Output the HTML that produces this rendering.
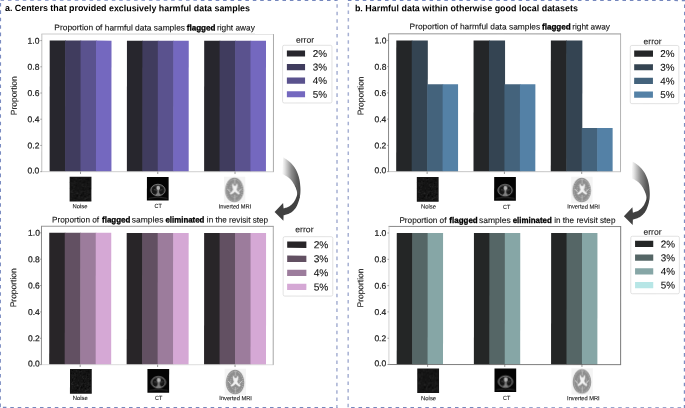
<!DOCTYPE html>
<html><head><meta charset="utf-8"><title>figure</title>
<style>html,body{margin:0;padding:0;background:#fff;}body{width:685px;height:408px;overflow:hidden;}svg{display:block;will-change:transform;}text{font-family:"Liberation Sans", sans-serif;}.r{stroke:#1a1a1a;stroke-width:0.22px;}.q{stroke:#111;stroke-width:0.1px;}.b{stroke:#000;stroke-width:0.3px;}</style>
</head><body>
<svg width="685" height="408" viewBox="0 0 685 408">
<defs><filter id="bl" x="-20%" y="-20%" width="140%" height="140%"><feGaussianBlur stdDeviation="0.35"/></filter><g id="noise"><rect x="0" y="0" width="21.8" height="24.6" fill="#141414"/><g filter="url(#bl)"><path d="M9.6 13.3h0.8v0.8h-0.8zM18.9 11.1h0.8v0.8h-0.8zM10.7 13.9h0.8v0.8h-0.8zM4.3 12.2h0.8v0.8h-0.8zM13.1 18.5h0.8v0.8h-0.8zM2.5 7.5h0.8v0.8h-0.8zM2.4 18.9h0.8v0.8h-0.8zM14.3 1.5h0.8v0.8h-0.8zM20.0 22.4h0.8v0.8h-0.8zM13.5 14.5h0.8v0.8h-0.8zM3.7 0.9h0.8v0.8h-0.8zM11.1 1.9h0.8v0.8h-0.8zM4.4 6.1h0.8v0.8h-0.8zM1.2 11.1h0.8v0.8h-0.8zM9.3 19.6h0.8v0.8h-0.8zM10.9 15.1h0.8v0.8h-0.8zM10.5 15.6h0.8v0.8h-0.8zM9.7 6.9h0.8v0.8h-0.8zM20.4 23.1h0.8v0.8h-0.8zM17.2 16.6h0.8v0.8h-0.8zM6.8 5.8h0.8v0.8h-0.8zM6.3 2.2h0.8v0.8h-0.8zM15.8 9.6h0.8v0.8h-0.8zM17.4 9.3h0.8v0.8h-0.8zM19.6 19.7h0.8v0.8h-0.8zM0.6 5.3h0.8v0.8h-0.8zM18.6 11.2h0.8v0.8h-0.8zM20.0 9.6h0.8v0.8h-0.8zM2.0 14.8h0.8v0.8h-0.8zM16.0 6.7h0.8v0.8h-0.8zM2.3 8.1h0.8v0.8h-0.8zM19.7 17.7h0.8v0.8h-0.8zM2.9 6.2h0.8v0.8h-0.8zM2.6 2.0h0.8v0.8h-0.8zM16.4 4.6h0.8v0.8h-0.8zM11.7 10.7h0.8v0.8h-0.8zM4.4 17.1h0.8v0.8h-0.8zM3.2 15.1h0.8v0.8h-0.8zM2.9 10.1h0.8v0.8h-0.8zM4.8 6.7h0.8v0.8h-0.8zM19.8 18.8h0.8v0.8h-0.8zM6.6 20.6h0.8v0.8h-0.8zM4.8 9.5h0.8v0.8h-0.8zM17.5 15.1h0.8v0.8h-0.8zM2.6 23.0h0.8v0.8h-0.8zM4.8 6.4h0.8v0.8h-0.8zM15.9 8.0h0.8v0.8h-0.8zM6.5 2.3h0.8v0.8h-0.8zM2.4 13.8h0.8v0.8h-0.8zM5.4 14.2h0.8v0.8h-0.8zM8.0 10.8h0.8v0.8h-0.8zM19.6 11.5h0.8v0.8h-0.8zM12.0 20.2h0.8v0.8h-0.8zM4.2 4.1h0.8v0.8h-0.8zM18.6 19.1h0.8v0.8h-0.8zM5.5 4.9h0.8v0.8h-0.8zM15.2 21.9h0.8v0.8h-0.8zM4.5 22.1h0.8v0.8h-0.8zM18.1 14.2h0.8v0.8h-0.8zM8.9 2.9h0.8v0.8h-0.8zM1.4 22.4h0.8v0.8h-0.8zM5.3 16.5h0.8v0.8h-0.8zM5.7 19.2h0.8v0.8h-0.8zM12.4 7.2h0.8v0.8h-0.8zM4.1 16.9h0.8v0.8h-0.8zM2.0 5.8h0.8v0.8h-0.8zM11.7 19.9h0.8v0.8h-0.8zM12.8 6.9h0.8v0.8h-0.8zM18.8 5.2h0.8v0.8h-0.8zM0.9 6.7h0.8v0.8h-0.8zM9.4 2.0h0.8v0.8h-0.8zM4.1 8.9h0.8v0.8h-0.8zM11.9 3.6h0.8v0.8h-0.8zM7.8 20.7h0.8v0.8h-0.8zM20.0 15.4h0.8v0.8h-0.8zM14.3 13.8h0.8v0.8h-0.8zM3.4 1.4h0.8v0.8h-0.8zM1.0 21.2h0.8v0.8h-0.8zM14.5 22.4h0.8v0.8h-0.8zM1.0 15.0h0.8v0.8h-0.8z" fill="#232323"/><path d="M10.1 17.1h0.8v0.8h-0.8zM6.9 23.2h0.8v0.8h-0.8zM2.1 12.9h0.8v0.8h-0.8zM15.2 20.9h0.8v0.8h-0.8zM15.2 16.5h0.8v0.8h-0.8zM16.3 21.3h0.8v0.8h-0.8zM7.6 16.1h0.8v0.8h-0.8zM18.4 20.3h0.8v0.8h-0.8zM8.9 18.5h0.8v0.8h-0.8zM17.7 13.5h0.8v0.8h-0.8zM13.0 9.2h0.8v0.8h-0.8zM12.1 14.4h0.8v0.8h-0.8zM2.2 15.1h0.8v0.8h-0.8zM20.3 20.5h0.8v0.8h-0.8zM15.0 9.4h0.8v0.8h-0.8zM15.2 13.7h0.8v0.8h-0.8zM9.3 19.5h0.8v0.8h-0.8zM2.3 17.6h0.8v0.8h-0.8zM1.2 14.2h0.8v0.8h-0.8zM10.1 5.8h0.8v0.8h-0.8zM14.4 11.8h0.8v0.8h-0.8zM12.8 21.4h0.8v0.8h-0.8zM5.7 0.9h0.8v0.8h-0.8zM6.6 15.9h0.8v0.8h-0.8zM4.6 4.4h0.8v0.8h-0.8zM18.5 15.5h0.8v0.8h-0.8zM9.4 20.8h0.8v0.8h-0.8zM7.1 15.6h0.8v0.8h-0.8zM4.5 10.3h0.8v0.8h-0.8zM16.6 21.3h0.8v0.8h-0.8zM18.0 9.3h0.8v0.8h-0.8zM12.1 7.8h0.8v0.8h-0.8zM3.3 11.8h0.8v0.8h-0.8zM17.2 19.8h0.8v0.8h-0.8zM14.7 22.1h0.8v0.8h-0.8z" fill="#2e2e2e"/><path d="M6.1 4.4h0.8v0.8h-0.8zM9.5 6.8h0.8v0.8h-0.8zM4.8 10.0h0.8v0.8h-0.8zM13.0 11.8h0.8v0.8h-0.8zM6.8 19.6h0.8v0.8h-0.8zM20.0 10.8h0.8v0.8h-0.8zM2.1 1.3h0.8v0.8h-0.8zM17.9 1.5h0.8v0.8h-0.8zM14.6 13.5h0.8v0.8h-0.8zM6.7 18.5h0.8v0.8h-0.8zM1.0 3.7h0.8v0.8h-0.8zM9.6 1.2h0.8v0.8h-0.8zM17.0 6.0h0.8v0.8h-0.8zM3.4 1.7h0.8v0.8h-0.8zM13.1 10.7h0.8v0.8h-0.8zM13.1 15.4h0.8v0.8h-0.8zM16.6 22.3h0.8v0.8h-0.8zM14.2 5.1h0.8v0.8h-0.8zM10.0 4.6h0.8v0.8h-0.8zM0.8 11.3h0.8v0.8h-0.8zM14.7 4.6h0.8v0.8h-0.8zM6.0 8.4h0.8v0.8h-0.8zM14.4 12.4h0.8v0.8h-0.8zM12.8 17.7h0.8v0.8h-0.8zM8.4 18.5h0.8v0.8h-0.8zM18.5 2.6h0.8v0.8h-0.8zM19.1 16.9h0.8v0.8h-0.8zM3.2 10.8h0.8v0.8h-0.8zM13.0 21.2h0.8v0.8h-0.8zM8.1 13.5h0.8v0.8h-0.8zM18.0 18.6h0.8v0.8h-0.8zM19.3 11.1h0.8v0.8h-0.8zM13.5 5.2h0.8v0.8h-0.8zM14.9 19.1h0.8v0.8h-0.8zM13.3 16.8h0.8v0.8h-0.8zM4.8 20.9h0.8v0.8h-0.8zM20.0 22.7h0.8v0.8h-0.8zM11.2 18.5h0.8v0.8h-0.8zM6.9 21.2h0.8v0.8h-0.8zM17.5 8.5h0.8v0.8h-0.8zM2.2 10.6h0.8v0.8h-0.8zM11.5 18.0h0.8v0.8h-0.8zM10.3 1.2h0.8v0.8h-0.8zM16.6 2.0h0.8v0.8h-0.8zM16.4 4.5h0.8v0.8h-0.8zM7.2 18.4h0.8v0.8h-0.8zM3.4 4.0h0.8v0.8h-0.8zM10.8 17.0h0.8v0.8h-0.8zM17.2 16.2h0.8v0.8h-0.8zM19.3 11.7h0.8v0.8h-0.8z" fill="#080808"/></g></g><g id="ct"><rect x="0" y="0" width="21.7" height="23.6" fill="#040404"/><g transform="translate(11.0,13.2)" filter="url(#bl)"><ellipse cx="0" cy="0" rx="7.15" ry="5.75" fill="#262626" stroke="#858585" stroke-width="0.95"/><ellipse cx="-3.4" cy="0.2" rx="2.5" ry="3.7" fill="#191919"/><ellipse cx="3.7" cy="0.2" rx="2.5" ry="3.7" fill="#191919"/><path d="M-0.4 -0.4 L1.0 -0.4 L1.2 3.0 L3.2 5.2 L-2.8 5.2 L-0.7 3.0 Z" fill="#808080"/><ellipse cx="0.3" cy="-2.1" rx="1.8" ry="2.1" fill="#b4b4b4"/><path d="M-4.0 -0.6 L-0.8 0.5 M1.4 0.5 L4.4 -0.6" stroke="#555" stroke-width="0.6" fill="none"/><path d="M-9.4 8.3 Q0 5.9 9.4 8.3" fill="none" stroke="#383838" stroke-width="0.8"/></g></g><g id="mri"><rect x="0" y="-0.3" width="21.4" height="26.4" fill="#f4f4f4"/><g transform="translate(10.5,12.9)" filter="url(#bl)"><path d="M0 -12.3 C5.0 -12.3 9.2 -6.5 9.2 0.6 C9.2 7.2 5.6 12.3 0 12.3 C-5.6 12.3 -9.2 7.2 -9.2 0.6 C-9.2 -6.5 -5.0 -12.3 0 -12.3 Z" fill="#8f8f8f"/><ellipse cx="0" cy="0.3" rx="8.0" ry="10.9" fill="none" stroke="#bebebe" stroke-width="1.0" stroke-dasharray="0.9 1.0"/><ellipse cx="0" cy="0.3" rx="6.2" ry="8.8" fill="none" stroke="#8b8b8b" stroke-width="0.9" stroke-dasharray="1.2 0.9"/><ellipse cx="0" cy="0.6" rx="4.6" ry="6.9" fill="none" stroke="#c4c4c4" stroke-width="0.8" stroke-dasharray="0.8 1.1"/><path d="M-6.6 -0.8 L-4.6 1.6 M6.6 -0.8 L4.6 1.6" stroke="#cfcfcf" stroke-width="1.0" fill="none" stroke-linecap="round"/><path d="M0.3 -11.4 V-6.4 M0.3 5.0 V11.2" stroke="#c8c8c8" stroke-width="0.7" fill="none"/><path d="M-2.0 -6.3 Q-1.0 -5.0 -0.1 -3.7 L0.5 -4.0 L1.1 -3.7 Q2.0 -5.0 3.0 -6.3 Q3.3 -3.0 2.1 -0.3 Q2.9 1.8 5.3 3.3 L4.5 4.4 Q2.0 3.5 0.5 1.7 Q-1.0 3.5 -3.5 4.4 L-4.3 3.3 Q-1.9 1.8 -1.1 -0.3 Q-2.3 -3.0 -2.0 -6.3 Z" fill="#f2f2f2" stroke="#e2e2e2" stroke-width="0.35"/></g></g><linearGradient id="ag" gradientUnits="userSpaceOnUse" x1="282" y1="0" x2="300.5" y2="0"><stop offset="0" stop-color="#ffffff"/><stop offset="0.15" stop-color="#e2e2e2"/><stop offset="0.5" stop-color="#8e8e8e"/><stop offset="0.8" stop-color="#5e5e5e"/><stop offset="1" stop-color="#4a4a4a"/></linearGradient></defs>
<rect width="685" height="408" fill="#fff"/>
<g transform="rotate(0.03 342.5 204)" text-rendering="geometricPrecision">
<line x1="0" y1="0.2" x2="337.4" y2="0.2" stroke="#7587bd" stroke-width="1.5" stroke-dasharray="3.55 3.87" stroke-dashoffset="7.02"/>
<line x1="0.35" y1="0" x2="0.35" y2="408" stroke="#7b8cc1" stroke-width="1.3" stroke-dasharray="3.55 3.87" stroke-dashoffset="4.32"/>
<line x1="337.0" y1="0" x2="337.0" y2="408" stroke="#a6b0d3" stroke-width="1.5" stroke-dasharray="3.55 3.87" stroke-dashoffset="3.12"/>
<line x1="0" y1="407.75" x2="337.4" y2="407.75" stroke="#7587bd" stroke-width="1.4" stroke-dasharray="3.55 3.87" stroke-dashoffset="4.44"/>
<line x1="347.8" y1="0.2" x2="685" y2="0.2" stroke="#7587bd" stroke-width="1.5" stroke-dasharray="3.55 3.87" stroke-dashoffset="0.00"/>
<line x1="348.25" y1="0" x2="348.25" y2="408" stroke="#a6b0d3" stroke-width="1.5" stroke-dasharray="3.55 3.87" stroke-dashoffset="4.32"/>
<line x1="684.6" y1="0" x2="684.6" y2="408" stroke="#7b8cc1" stroke-width="1.4" stroke-dasharray="3.55 3.87" stroke-dashoffset="3.22"/>
<line x1="347.8" y1="407.75" x2="685" y2="407.75" stroke="#7587bd" stroke-width="1.4" stroke-dasharray="3.55 3.87" stroke-dashoffset="4.02"/>
<text x="4.9" y="11.25" font-size="9.1" font-weight="bold" fill="#000" textLength="245" lengthAdjust="spacingAndGlyphs">a. Centers that provided exclusively harmful data samples</text>
<text x="354.8" y="11.25" font-size="9.1" font-weight="bold" fill="#000" textLength="223" lengthAdjust="spacingAndGlyphs">b. Harmful data within otherwise good local datasets</text>
<text x="54.25" y="30.50" font-size="8.3" class="q" fill="#111" textLength="130.70" lengthAdjust="spacingAndGlyphs">Proportion of harmful data samples</text>
<text x="186.65" y="30.50" font-size="8.3" font-weight="bold" class="b" fill="#000" textLength="28.80" lengthAdjust="spacingAndGlyphs">flagged</text>
<text x="216.85" y="30.50" font-size="8.3" class="q" fill="#111" textLength="37.90" lengthAdjust="spacingAndGlyphs">right away</text>
<rect x="49.60" y="40.75" width="16.05" height="131.05" fill="#27262d"/>
<rect x="65.05" y="40.75" width="16.05" height="131.05" fill="#403c5e"/>
<rect x="80.50" y="40.75" width="16.05" height="131.05" fill="#5a528e"/>
<rect x="95.95" y="40.75" width="15.45" height="131.05" fill="#7468bf"/>
<rect x="126.85" y="40.75" width="16.05" height="131.05" fill="#27262d"/>
<rect x="142.30" y="40.75" width="16.05" height="131.05" fill="#403c5e"/>
<rect x="157.75" y="40.75" width="16.05" height="131.05" fill="#5a528e"/>
<rect x="173.20" y="40.75" width="15.45" height="131.05" fill="#7468bf"/>
<rect x="204.10" y="40.75" width="16.05" height="131.05" fill="#27262d"/>
<rect x="219.55" y="40.75" width="16.05" height="131.05" fill="#403c5e"/>
<rect x="235.00" y="40.75" width="16.05" height="131.05" fill="#5a528e"/>
<rect x="250.45" y="40.75" width="15.45" height="131.05" fill="#7468bf"/>
<line x1="41.30" y1="171.80" x2="273.85" y2="171.80" stroke="#c8c8c8" stroke-width="0.9"/>
<line x1="41.30" y1="34.20" x2="273.85" y2="34.20" stroke="#dddddd" stroke-width="1.4"/>
<line x1="273.40" y1="34.20" x2="273.40" y2="171.80" stroke="#a0a0a0" stroke-width="0.9"/>
<line x1="41.75" y1="34.20" x2="41.75" y2="171.80" stroke="#c6c6c6" stroke-width="1.1"/>
<line x1="40.25" y1="171.80" x2="41.75" y2="171.80" stroke="#666" stroke-width="0.6"/>
<text x="39.35" y="173.55" class="r" font-size="8.5" text-anchor="end" fill="#1a1a1a">0.0</text>
<line x1="40.25" y1="145.59" x2="41.75" y2="145.59" stroke="#666" stroke-width="0.6"/>
<text x="39.35" y="148.64" class="r" font-size="8.5" text-anchor="end" fill="#1a1a1a">0.2</text>
<line x1="40.25" y1="119.38" x2="41.75" y2="119.38" stroke="#666" stroke-width="0.6"/>
<text x="39.35" y="122.43" class="r" font-size="8.5" text-anchor="end" fill="#1a1a1a">0.4</text>
<line x1="40.25" y1="93.17" x2="41.75" y2="93.17" stroke="#666" stroke-width="0.6"/>
<text x="39.35" y="96.22" class="r" font-size="8.5" text-anchor="end" fill="#1a1a1a">0.6</text>
<line x1="40.25" y1="66.96" x2="41.75" y2="66.96" stroke="#666" stroke-width="0.6"/>
<text x="39.35" y="70.01" class="r" font-size="8.5" text-anchor="end" fill="#1a1a1a">0.8</text>
<line x1="40.25" y1="40.75" x2="41.75" y2="40.75" stroke="#666" stroke-width="0.6"/>
<text x="39.35" y="43.80" class="r" font-size="8.5" text-anchor="end" fill="#1a1a1a">1.0</text>
<line x1="80.50" y1="171.80" x2="80.50" y2="174.10" stroke="#555" stroke-width="0.6"/>
<line x1="157.75" y1="171.80" x2="157.75" y2="174.10" stroke="#555" stroke-width="0.6"/>
<line x1="235.00" y1="171.80" x2="235.00" y2="174.10" stroke="#555" stroke-width="0.6"/>
<text transform="translate(16.60,95.90) rotate(-90)" class="q" font-size="8.5" text-anchor="middle" fill="#1c1c1c" textLength="38.9" lengthAdjust="spacingAndGlyphs">Proportion</text>
<use href="#noise" x="69.60" y="177.00"/>
<use href="#ct" x="146.90" y="177.00"/>
<use href="#mri" x="223.90" y="177.00"/>
<text x="80.05" y="208.50" class="q" font-size="6" text-anchor="middle" fill="#111" textLength="15.0" lengthAdjust="spacingAndGlyphs">Noise</text>
<text x="158.15" y="208.50" class="q" font-size="6" text-anchor="middle" fill="#111" textLength="7.2" lengthAdjust="spacingAndGlyphs">CT</text>
<text x="235.00" y="208.50" class="q" font-size="6" text-anchor="middle" fill="#111" textLength="32.6" lengthAdjust="spacingAndGlyphs">Inverted MRI</text>
<text x="295.80" y="42.80" class="q" font-size="8.3" fill="#1c1c1c" textLength="18.20" lengthAdjust="spacingAndGlyphs">error</text>
<rect x="282.50" y="45.30" width="49.40" height="57.70" rx="1.6" fill="#fff" stroke="#d6d6d6" stroke-width="0.7"/>
<rect x="286.80" y="50.50" width="18.20" height="6.10" fill="#27262d"/>
<text x="312.70" y="56.95" class="q" font-size="9.9" fill="#111">2%</text>
<rect x="286.80" y="64.07" width="18.20" height="6.10" fill="#403c5e"/>
<text x="312.70" y="70.52" class="q" font-size="9.9" fill="#111">3%</text>
<rect x="286.80" y="77.64" width="18.20" height="6.10" fill="#5a528e"/>
<text x="312.70" y="84.09" class="q" font-size="9.9" fill="#111">4%</text>
<rect x="286.80" y="91.21" width="18.20" height="6.10" fill="#7468bf"/>
<text x="312.70" y="97.66" class="q" font-size="9.9" fill="#111">5%</text>
<text x="52.10" y="222.70" font-size="8.3" class="q" fill="#111" textLength="47.05" lengthAdjust="spacingAndGlyphs">Proportion of</text>
<text x="102.05" y="222.70" font-size="8.3" font-weight="bold" class="b" fill="#000" textLength="28.40" lengthAdjust="spacingAndGlyphs">flagged</text>
<text x="131.75" y="222.70" font-size="8.3" class="q" fill="#111" textLength="31.70" lengthAdjust="spacingAndGlyphs">samples</text>
<text x="165.45" y="222.70" font-size="8.3" font-weight="bold" class="b" fill="#000" textLength="39.00" lengthAdjust="spacingAndGlyphs">eliminated</text>
<text x="206.85" y="222.70" font-size="8.3" class="q" fill="#111" textLength="61.30" lengthAdjust="spacingAndGlyphs">in the revisit step</text>
<rect x="49.30" y="232.99" width="16.09" height="131.81" fill="#282528"/>
<rect x="64.79" y="232.99" width="16.09" height="131.81" fill="#625062"/>
<rect x="80.27" y="232.99" width="16.09" height="131.81" fill="#9c7c9c"/>
<rect x="95.76" y="232.99" width="15.49" height="131.81" fill="#d5a8d5"/>
<rect x="126.73" y="232.99" width="16.09" height="131.81" fill="#282528"/>
<rect x="142.21" y="232.99" width="16.09" height="131.81" fill="#625062"/>
<rect x="157.70" y="232.99" width="16.09" height="131.81" fill="#9c7c9c"/>
<rect x="173.19" y="232.99" width="15.49" height="131.81" fill="#d5a8d5"/>
<rect x="204.16" y="232.99" width="16.09" height="131.81" fill="#282528"/>
<rect x="219.64" y="232.99" width="16.09" height="131.81" fill="#625062"/>
<rect x="235.13" y="232.99" width="16.09" height="131.81" fill="#9c7c9c"/>
<rect x="250.61" y="232.99" width="15.49" height="131.81" fill="#d5a8d5"/>
<line x1="41.05" y1="364.80" x2="273.75" y2="364.80" stroke="#d8d8d8" stroke-width="0.9"/>
<line x1="41.05" y1="226.40" x2="273.75" y2="226.40" stroke="#8c8c8c" stroke-width="0.9"/>
<line x1="273.30" y1="226.40" x2="273.30" y2="364.80" stroke="#9c9c9c" stroke-width="0.9"/>
<line x1="41.50" y1="226.40" x2="41.50" y2="364.80" stroke="#7c7c7c" stroke-width="0.9"/>
<line x1="40.00" y1="364.80" x2="41.50" y2="364.80" stroke="#666" stroke-width="0.6"/>
<text x="39.90" y="366.55" class="r" font-size="8.5" text-anchor="end" fill="#1a1a1a">0.0</text>
<line x1="40.00" y1="338.44" x2="41.50" y2="338.44" stroke="#666" stroke-width="0.6"/>
<text x="39.90" y="341.49" class="r" font-size="8.5" text-anchor="end" fill="#1a1a1a">0.2</text>
<line x1="40.00" y1="312.08" x2="41.50" y2="312.08" stroke="#666" stroke-width="0.6"/>
<text x="39.90" y="315.13" class="r" font-size="8.5" text-anchor="end" fill="#1a1a1a">0.4</text>
<line x1="40.00" y1="285.71" x2="41.50" y2="285.71" stroke="#666" stroke-width="0.6"/>
<text x="39.90" y="288.76" class="r" font-size="8.5" text-anchor="end" fill="#1a1a1a">0.6</text>
<line x1="40.00" y1="259.35" x2="41.50" y2="259.35" stroke="#666" stroke-width="0.6"/>
<text x="39.90" y="262.40" class="r" font-size="8.5" text-anchor="end" fill="#1a1a1a">0.8</text>
<line x1="40.00" y1="232.99" x2="41.50" y2="232.99" stroke="#666" stroke-width="0.6"/>
<text x="39.90" y="236.04" class="r" font-size="8.5" text-anchor="end" fill="#1a1a1a">1.0</text>
<line x1="80.27" y1="364.80" x2="80.27" y2="367.10" stroke="#555" stroke-width="0.6"/>
<line x1="157.70" y1="364.80" x2="157.70" y2="367.10" stroke="#555" stroke-width="0.6"/>
<line x1="235.13" y1="364.80" x2="235.13" y2="367.10" stroke="#555" stroke-width="0.6"/>
<text transform="translate(16.40,288.00) rotate(-90)" class="q" font-size="8.5" text-anchor="middle" fill="#1c1c1c" textLength="38.9" lengthAdjust="spacingAndGlyphs">Proportion</text>
<use href="#noise" x="70.07" y="369.20"/>
<use href="#ct" x="147.55" y="369.20"/>
<use href="#mri" x="224.73" y="369.20"/>
<text x="80.42" y="400.20" class="q" font-size="6" text-anchor="middle" fill="#111" textLength="15.0" lengthAdjust="spacingAndGlyphs">Noise</text>
<text x="158.70" y="400.20" class="q" font-size="6" text-anchor="middle" fill="#111" textLength="7.2" lengthAdjust="spacingAndGlyphs">CT</text>
<text x="235.73" y="400.20" class="q" font-size="6" text-anchor="middle" fill="#111" textLength="32.6" lengthAdjust="spacingAndGlyphs">Inverted MRI</text>
<text x="295.20" y="232.20" class="q" font-size="8.3" fill="#1c1c1c" textLength="18.40" lengthAdjust="spacingAndGlyphs">error</text>
<rect x="283.20" y="236.70" width="49.60" height="59.40" rx="1.6" fill="#fff" stroke="#d6d6d6" stroke-width="0.7"/>
<rect x="287.20" y="241.60" width="19.20" height="6.30" fill="#282528"/>
<text x="313.70" y="248.25" class="q" font-size="10.2" fill="#111">2%</text>
<rect x="287.20" y="255.65" width="19.20" height="6.30" fill="#625062"/>
<text x="313.70" y="262.30" class="q" font-size="10.2" fill="#111">3%</text>
<rect x="287.20" y="269.70" width="19.20" height="6.30" fill="#9c7c9c"/>
<text x="313.70" y="276.35" class="q" font-size="10.2" fill="#111">4%</text>
<rect x="287.20" y="283.75" width="19.20" height="6.30" fill="#d5a8d5"/>
<text x="313.70" y="290.40" class="q" font-size="10.2" fill="#111">5%</text>
<g transform="translate(0.00,0.00)">
<polygon points="283.20,157.40 283.53,157.61 283.98,157.88 284.51,158.21 285.09,158.57 285.71,158.97 286.34,159.38 286.94,159.79 287.50,160.20 288.02,160.60 288.55,161.01 289.07,161.43 289.59,161.87 290.10,162.32 290.61,162.79 291.11,163.28 291.60,163.80 292.09,164.34 292.58,164.91 293.06,165.50 293.54,166.11 294.00,166.74 294.45,167.38 294.89,168.04 295.30,168.70 295.69,169.38 296.07,170.09 296.44,170.82 296.79,171.56 297.12,172.31 297.43,173.05 297.73,173.78 298.00,174.50 298.25,175.20 298.48,175.90 298.69,176.59 298.88,177.28 299.05,177.97 299.21,178.65 299.36,179.32 299.50,180.00 299.63,180.68 299.74,181.35 299.84,182.03 299.93,182.70 300.01,183.37 300.08,184.02 300.14,184.67 300.20,185.30 300.26,185.92 300.31,186.51 300.35,187.10 300.38,187.68 300.41,188.26 300.43,188.83 300.45,189.41 300.45,190.00 300.45,190.60 300.44,191.22 300.42,191.84 300.39,192.46 300.36,193.08 300.31,193.68 300.26,194.25 300.20,194.80 300.12,195.34 300.02,195.89 299.91,196.43 299.78,196.95 299.67,197.43 299.56,197.86 299.47,198.22 299.40,198.50 297.60,195.00 297.56,194.77 297.50,194.47 297.44,194.11 297.36,193.71 297.28,193.29 297.19,192.85 297.10,192.41 297.00,192.00 296.90,191.59 296.79,191.18 296.68,190.75 296.56,190.32 296.43,189.89 296.29,189.45 296.15,189.02 296.00,188.60 295.84,188.19 295.68,187.78 295.50,187.37 295.32,186.97 295.14,186.56 294.94,186.15 294.72,185.73 294.50,185.30 294.26,184.85 294.01,184.39 293.75,183.92 293.47,183.44 293.19,182.96 292.90,182.49 292.60,182.04 292.30,181.60 291.99,181.18 291.68,180.77 291.36,180.37 291.04,179.97 290.70,179.59 290.35,179.22 289.98,178.85 289.60,178.50 289.20,178.16 288.77,177.82 288.33,177.50 287.88,177.18 287.42,176.87 286.95,176.58 286.48,176.28 286.00,176.00 285.49,175.71 284.93,175.42 284.35,175.13 283.78,174.84 283.22,174.58 282.73,174.35 282.31,174.15 282.00,174.00" fill="url(#ag)"/>
<polygon points="299.75,197.20 299.69,197.48 299.61,197.84 299.52,198.27 299.42,198.75 299.30,199.28 299.15,199.83 298.99,200.41 298.80,201.00 298.58,201.63 298.34,202.31 298.07,203.04 297.78,203.79 297.47,204.55 297.16,205.28 296.83,205.97 296.50,206.60 296.16,207.18 295.82,207.72 295.47,208.23 295.10,208.72 294.72,209.19 294.33,209.64 293.92,210.07 293.50,210.50 293.07,210.92 292.64,211.32 292.20,211.70 291.74,212.07 291.26,212.42 290.74,212.76 290.19,213.09 289.60,213.40 288.91,213.71 288.11,214.01 287.24,214.30 286.36,214.58 285.50,214.84 284.73,215.06 284.08,215.25 283.60,215.40 283.40,220.90 274.60,212.00 283.10,203.00 283.60,208.50 283.94,208.39 284.41,208.25 284.96,208.09 285.58,207.90 286.22,207.69 286.85,207.47 287.46,207.24 288.00,207.00 288.49,206.75 288.97,206.49 289.44,206.22 289.89,205.93 290.34,205.63 290.77,205.31 291.19,204.96 291.60,204.60 292.00,204.21 292.40,203.80 292.78,203.36 293.15,202.91 293.51,202.45 293.85,201.97 294.19,201.49 294.50,201.00 294.80,200.50 295.09,199.99 295.36,199.46 295.62,198.93 295.86,198.39 296.09,197.85 296.30,197.32 296.50,196.80 296.68,196.28 296.85,195.76 297.01,195.23 297.14,194.71 297.26,194.20 297.36,193.71 297.44,193.24 297.50,192.80 297.53,192.40 297.53,192.03 297.51,191.68 297.48,191.35 297.42,191.03 297.35,190.70 297.28,190.36 297.20,190.00 297.11,189.62 297.01,189.21 296.89,188.80 296.77,188.39 296.64,187.97 296.49,187.57 296.35,187.17 296.20,186.80 296.03,186.43 295.85,186.05 295.64,185.67 295.44,185.30 295.24,184.96 295.06,184.65 294.91,184.40 294.80,184.20" fill="#414141"/>
</g>
<text x="409.45" y="29.30" font-size="8.3" class="q" fill="#111" textLength="130.70" lengthAdjust="spacingAndGlyphs">Proportion of harmful data samples</text>
<text x="541.85" y="29.30" font-size="8.3" font-weight="bold" class="b" fill="#000" textLength="28.80" lengthAdjust="spacingAndGlyphs">flagged</text>
<text x="572.05" y="29.30" font-size="8.3" class="q" fill="#111" textLength="37.90" lengthAdjust="spacingAndGlyphs">right away</text>
<rect x="396.20" y="40.36" width="16.06" height="131.24" fill="#242628"/>
<rect x="411.66" y="40.36" width="16.06" height="131.24" fill="#344452"/>
<rect x="427.11" y="84.11" width="16.06" height="87.49" fill="#44637c"/>
<rect x="442.57" y="84.11" width="15.46" height="87.49" fill="#5481a6"/>
<rect x="473.49" y="40.36" width="16.06" height="131.24" fill="#242628"/>
<rect x="488.94" y="40.36" width="16.06" height="131.24" fill="#344452"/>
<rect x="504.40" y="84.11" width="16.06" height="87.49" fill="#44637c"/>
<rect x="519.86" y="84.11" width="15.46" height="87.49" fill="#5481a6"/>
<rect x="550.77" y="40.36" width="16.06" height="131.24" fill="#242628"/>
<rect x="566.23" y="40.36" width="16.06" height="131.24" fill="#344452"/>
<rect x="581.69" y="127.85" width="16.06" height="43.75" fill="#44637c"/>
<rect x="597.14" y="127.85" width="15.46" height="43.75" fill="#5481a6"/>
<line x1="388.05" y1="171.60" x2="620.95" y2="171.60" stroke="#c0c0c0" stroke-width="0.9"/>
<line x1="388.05" y1="33.80" x2="620.95" y2="33.80" stroke="#8a8a8a" stroke-width="0.9"/>
<line x1="620.50" y1="33.80" x2="620.50" y2="171.60" stroke="#aaaaaa" stroke-width="0.9"/>
<line x1="388.50" y1="33.80" x2="388.50" y2="171.60" stroke="#7a7a7a" stroke-width="0.9"/>
<line x1="387.00" y1="171.60" x2="388.50" y2="171.60" stroke="#666" stroke-width="0.6"/>
<text x="386.30" y="173.35" class="r" font-size="8.5" text-anchor="end" fill="#1a1a1a">0.0</text>
<line x1="387.00" y1="145.35" x2="388.50" y2="145.35" stroke="#666" stroke-width="0.6"/>
<text x="386.30" y="148.40" class="r" font-size="8.5" text-anchor="end" fill="#1a1a1a">0.2</text>
<line x1="387.00" y1="119.10" x2="388.50" y2="119.10" stroke="#666" stroke-width="0.6"/>
<text x="386.30" y="122.15" class="r" font-size="8.5" text-anchor="end" fill="#1a1a1a">0.4</text>
<line x1="387.00" y1="92.86" x2="388.50" y2="92.86" stroke="#666" stroke-width="0.6"/>
<text x="386.30" y="95.91" class="r" font-size="8.5" text-anchor="end" fill="#1a1a1a">0.6</text>
<line x1="387.00" y1="66.61" x2="388.50" y2="66.61" stroke="#666" stroke-width="0.6"/>
<text x="386.30" y="69.66" class="r" font-size="8.5" text-anchor="end" fill="#1a1a1a">0.8</text>
<line x1="387.00" y1="40.36" x2="388.50" y2="40.36" stroke="#666" stroke-width="0.6"/>
<text x="386.30" y="43.41" class="r" font-size="8.5" text-anchor="end" fill="#1a1a1a">1.0</text>
<line x1="427.11" y1="171.60" x2="427.11" y2="173.90" stroke="#555" stroke-width="0.6"/>
<line x1="504.40" y1="171.60" x2="504.40" y2="173.90" stroke="#555" stroke-width="0.6"/>
<line x1="581.69" y1="171.60" x2="581.69" y2="173.90" stroke="#555" stroke-width="0.6"/>
<text transform="translate(363.40,95.90) rotate(-90)" class="q" font-size="8.5" text-anchor="middle" fill="#1c1c1c" textLength="38.9" lengthAdjust="spacingAndGlyphs">Proportion</text>
<use href="#noise" x="416.81" y="177.00"/>
<use href="#ct" x="494.15" y="177.00"/>
<use href="#mri" x="571.19" y="177.00"/>
<text x="428.56" y="208.50" class="q" font-size="6" text-anchor="middle" fill="#111" textLength="15.0" lengthAdjust="spacingAndGlyphs">Noise</text>
<text x="506.70" y="208.50" class="q" font-size="6" text-anchor="middle" fill="#111" textLength="7.2" lengthAdjust="spacingAndGlyphs">CT</text>
<text x="583.59" y="208.50" class="q" font-size="6" text-anchor="middle" fill="#111" textLength="32.6" lengthAdjust="spacingAndGlyphs">Inverted MRI</text>
<text x="643.50" y="44.00" class="q" font-size="8.3" fill="#1c1c1c" textLength="18.10" lengthAdjust="spacingAndGlyphs">error</text>
<rect x="630.20" y="45.30" width="48.60" height="58.20" rx="1.6" fill="#fff" stroke="#d6d6d6" stroke-width="0.7"/>
<rect x="634.10" y="50.30" width="18.80" height="6.20" fill="#242628"/>
<text x="660.30" y="56.85" class="q" font-size="9.9" fill="#111">2%</text>
<rect x="634.10" y="64.00" width="18.80" height="6.20" fill="#344452"/>
<text x="660.30" y="70.55" class="q" font-size="9.9" fill="#111">3%</text>
<rect x="634.10" y="77.70" width="18.80" height="6.20" fill="#44637c"/>
<text x="660.30" y="84.25" class="q" font-size="9.9" fill="#111">4%</text>
<rect x="634.10" y="91.40" width="18.80" height="6.20" fill="#5481a6"/>
<text x="660.30" y="97.95" class="q" font-size="9.9" fill="#111">5%</text>
<text x="399.40" y="222.90" font-size="8.3" class="q" fill="#111" textLength="47.05" lengthAdjust="spacingAndGlyphs">Proportion of</text>
<text x="449.35" y="222.90" font-size="8.3" font-weight="bold" class="b" fill="#000" textLength="28.40" lengthAdjust="spacingAndGlyphs">flagged</text>
<text x="479.05" y="222.90" font-size="8.3" class="q" fill="#111" textLength="31.70" lengthAdjust="spacingAndGlyphs">samples</text>
<text x="512.75" y="222.90" font-size="8.3" font-weight="bold" class="b" fill="#000" textLength="39.00" lengthAdjust="spacingAndGlyphs">eliminated</text>
<text x="554.15" y="222.90" font-size="8.3" class="q" fill="#111" textLength="61.30" lengthAdjust="spacingAndGlyphs">in the revisit step</text>
<rect x="396.80" y="232.98" width="16.04" height="131.52" fill="#242626"/>
<rect x="412.24" y="232.98" width="16.04" height="131.52" fill="#556666"/>
<rect x="427.67" y="232.98" width="15.44" height="131.52" fill="#86a6a6"/>
<rect x="473.98" y="232.98" width="16.04" height="131.52" fill="#242626"/>
<rect x="489.41" y="232.98" width="16.04" height="131.52" fill="#556666"/>
<rect x="504.85" y="232.98" width="15.44" height="131.52" fill="#86a6a6"/>
<rect x="551.16" y="232.98" width="16.04" height="131.52" fill="#242626"/>
<rect x="566.59" y="232.98" width="16.04" height="131.52" fill="#556666"/>
<rect x="582.03" y="232.98" width="15.44" height="131.52" fill="#86a6a6"/>
<line x1="388.55" y1="364.50" x2="621.15" y2="364.50" stroke="#6e6e6e" stroke-width="0.9"/>
<line x1="388.55" y1="226.40" x2="621.15" y2="226.40" stroke="#7a7a7a" stroke-width="0.9"/>
<line x1="620.70" y1="226.40" x2="620.70" y2="364.50" stroke="#6a6a6a" stroke-width="0.9"/>
<line x1="389.00" y1="226.40" x2="389.00" y2="364.50" stroke="#cccccc" stroke-width="0.9"/>
<line x1="387.50" y1="364.50" x2="389.00" y2="364.50" stroke="#666" stroke-width="0.6"/>
<text x="386.30" y="366.25" class="r" font-size="8.5" text-anchor="end" fill="#1a1a1a">0.0</text>
<line x1="387.50" y1="338.20" x2="389.00" y2="338.20" stroke="#666" stroke-width="0.6"/>
<text x="386.30" y="341.25" class="r" font-size="8.5" text-anchor="end" fill="#1a1a1a">0.2</text>
<line x1="387.50" y1="311.89" x2="389.00" y2="311.89" stroke="#666" stroke-width="0.6"/>
<text x="386.30" y="314.94" class="r" font-size="8.5" text-anchor="end" fill="#1a1a1a">0.4</text>
<line x1="387.50" y1="285.59" x2="389.00" y2="285.59" stroke="#666" stroke-width="0.6"/>
<text x="386.30" y="288.64" class="r" font-size="8.5" text-anchor="end" fill="#1a1a1a">0.6</text>
<line x1="387.50" y1="259.28" x2="389.00" y2="259.28" stroke="#666" stroke-width="0.6"/>
<text x="386.30" y="262.33" class="r" font-size="8.5" text-anchor="end" fill="#1a1a1a">0.8</text>
<line x1="387.50" y1="232.98" x2="389.00" y2="232.98" stroke="#666" stroke-width="0.6"/>
<text x="386.30" y="236.03" class="r" font-size="8.5" text-anchor="end" fill="#1a1a1a">1.0</text>
<line x1="427.67" y1="364.50" x2="427.67" y2="366.80" stroke="#555" stroke-width="0.6"/>
<line x1="504.85" y1="364.50" x2="504.85" y2="366.80" stroke="#555" stroke-width="0.6"/>
<line x1="582.03" y1="364.50" x2="582.03" y2="366.80" stroke="#555" stroke-width="0.6"/>
<text transform="translate(363.40,288.00) rotate(-90)" class="q" font-size="8.5" text-anchor="middle" fill="#1c1c1c" textLength="38.9" lengthAdjust="spacingAndGlyphs">Proportion</text>
<use href="#noise" x="417.37" y="368.40"/>
<use href="#ct" x="494.60" y="368.40"/>
<use href="#mri" x="571.53" y="368.40"/>
<text x="428.72" y="400.10" class="q" font-size="6" text-anchor="middle" fill="#111" textLength="15.0" lengthAdjust="spacingAndGlyphs">Noise</text>
<text x="506.75" y="400.10" class="q" font-size="6" text-anchor="middle" fill="#111" textLength="7.2" lengthAdjust="spacingAndGlyphs">CT</text>
<text x="583.53" y="400.10" class="q" font-size="6" text-anchor="middle" fill="#111" textLength="32.6" lengthAdjust="spacingAndGlyphs">Inverted MRI</text>
<text x="643.50" y="234.70" class="q" font-size="8.3" fill="#1c1c1c" textLength="18.10" lengthAdjust="spacingAndGlyphs">error</text>
<rect x="630.80" y="236.10" width="48.60" height="57.50" rx="1.6" fill="#fff" stroke="#d6d6d6" stroke-width="0.7"/>
<rect x="635.10" y="240.60" width="18.20" height="6.30" fill="#242626"/>
<text x="660.70" y="247.25" class="q" font-size="9.9" fill="#111">2%</text>
<rect x="635.10" y="254.33" width="18.20" height="6.30" fill="#556666"/>
<text x="660.70" y="260.98" class="q" font-size="9.9" fill="#111">3%</text>
<rect x="635.10" y="268.06" width="18.20" height="6.30" fill="#86a6a6"/>
<text x="660.70" y="274.71" class="q" font-size="9.9" fill="#111">4%</text>
<rect x="635.10" y="281.79" width="18.20" height="6.30" fill="#b7e6e6"/>
<text x="660.70" y="288.44" class="q" font-size="9.9" fill="#111">5%</text>
<g transform="translate(349.30,4.00)">
<polygon points="283.20,157.40 283.53,157.61 283.98,157.88 284.51,158.21 285.09,158.57 285.71,158.97 286.34,159.38 286.94,159.79 287.50,160.20 288.02,160.60 288.55,161.01 289.07,161.43 289.59,161.87 290.10,162.32 290.61,162.79 291.11,163.28 291.60,163.80 292.09,164.34 292.58,164.91 293.06,165.50 293.54,166.11 294.00,166.74 294.45,167.38 294.89,168.04 295.30,168.70 295.69,169.38 296.07,170.09 296.44,170.82 296.79,171.56 297.12,172.31 297.43,173.05 297.73,173.78 298.00,174.50 298.25,175.20 298.48,175.90 298.69,176.59 298.88,177.28 299.05,177.97 299.21,178.65 299.36,179.32 299.50,180.00 299.63,180.68 299.74,181.35 299.84,182.03 299.93,182.70 300.01,183.37 300.08,184.02 300.14,184.67 300.20,185.30 300.26,185.92 300.31,186.51 300.35,187.10 300.38,187.68 300.41,188.26 300.43,188.83 300.45,189.41 300.45,190.00 300.45,190.60 300.44,191.22 300.42,191.84 300.39,192.46 300.36,193.08 300.31,193.68 300.26,194.25 300.20,194.80 300.12,195.34 300.02,195.89 299.91,196.43 299.78,196.95 299.67,197.43 299.56,197.86 299.47,198.22 299.40,198.50 297.60,195.00 297.56,194.77 297.50,194.47 297.44,194.11 297.36,193.71 297.28,193.29 297.19,192.85 297.10,192.41 297.00,192.00 296.90,191.59 296.79,191.18 296.68,190.75 296.56,190.32 296.43,189.89 296.29,189.45 296.15,189.02 296.00,188.60 295.84,188.19 295.68,187.78 295.50,187.37 295.32,186.97 295.14,186.56 294.94,186.15 294.72,185.73 294.50,185.30 294.26,184.85 294.01,184.39 293.75,183.92 293.47,183.44 293.19,182.96 292.90,182.49 292.60,182.04 292.30,181.60 291.99,181.18 291.68,180.77 291.36,180.37 291.04,179.97 290.70,179.59 290.35,179.22 289.98,178.85 289.60,178.50 289.20,178.16 288.77,177.82 288.33,177.50 287.88,177.18 287.42,176.87 286.95,176.58 286.48,176.28 286.00,176.00 285.49,175.71 284.93,175.42 284.35,175.13 283.78,174.84 283.22,174.58 282.73,174.35 282.31,174.15 282.00,174.00" fill="url(#ag)"/>
<polygon points="299.75,197.20 299.69,197.48 299.61,197.84 299.52,198.27 299.42,198.75 299.30,199.28 299.15,199.83 298.99,200.41 298.80,201.00 298.58,201.63 298.34,202.31 298.07,203.04 297.78,203.79 297.47,204.55 297.16,205.28 296.83,205.97 296.50,206.60 296.16,207.18 295.82,207.72 295.47,208.23 295.10,208.72 294.72,209.19 294.33,209.64 293.92,210.07 293.50,210.50 293.07,210.92 292.64,211.32 292.20,211.70 291.74,212.07 291.26,212.42 290.74,212.76 290.19,213.09 289.60,213.40 288.91,213.71 288.11,214.01 287.24,214.30 286.36,214.58 285.50,214.84 284.73,215.06 284.08,215.25 283.60,215.40 283.40,220.90 274.60,212.00 283.10,203.00 283.60,208.50 283.94,208.39 284.41,208.25 284.96,208.09 285.58,207.90 286.22,207.69 286.85,207.47 287.46,207.24 288.00,207.00 288.49,206.75 288.97,206.49 289.44,206.22 289.89,205.93 290.34,205.63 290.77,205.31 291.19,204.96 291.60,204.60 292.00,204.21 292.40,203.80 292.78,203.36 293.15,202.91 293.51,202.45 293.85,201.97 294.19,201.49 294.50,201.00 294.80,200.50 295.09,199.99 295.36,199.46 295.62,198.93 295.86,198.39 296.09,197.85 296.30,197.32 296.50,196.80 296.68,196.28 296.85,195.76 297.01,195.23 297.14,194.71 297.26,194.20 297.36,193.71 297.44,193.24 297.50,192.80 297.53,192.40 297.53,192.03 297.51,191.68 297.48,191.35 297.42,191.03 297.35,190.70 297.28,190.36 297.20,190.00 297.11,189.62 297.01,189.21 296.89,188.80 296.77,188.39 296.64,187.97 296.49,187.57 296.35,187.17 296.20,186.80 296.03,186.43 295.85,186.05 295.64,185.67 295.44,185.30 295.24,184.96 295.06,184.65 294.91,184.40 294.80,184.20" fill="#414141"/>
</g>
</g>
</svg></body></html>
